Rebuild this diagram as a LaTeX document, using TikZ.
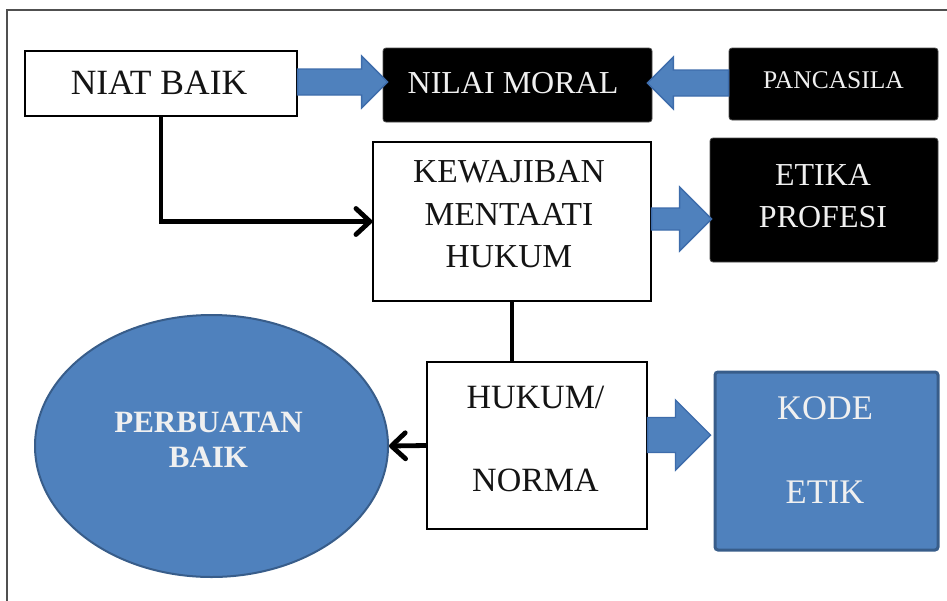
\documentclass[tikz,border=0pt]{standalone}
\usepackage{fontspec}
\setmainfont{Liberation Serif}
\usetikzlibrary{arrows.meta,shapes.geometric,calc}
\definecolor{bluefill}{HTML}{4F81BD}
\definecolor{blueedge}{HTML}{385D8A}
\definecolor{arrowedge}{HTML}{3D6CAB}
\definecolor{framegray}{HTML}{505050}

% wide block arrow: #1 tail, #2 tip, #3 body half-height, #4 head half-height, #5 signed head length
\newcommand\blockarrow[5]{%
  \draw[blockarrow] ($(#1)+(0,-#3)$) -- ($(#2)+(-#5,-#3)$) -- ($(#2)+(-#5,-#4)$)
    -- (#2) -- ($(#2)+(-#5,#4)$) -- ($(#2)+(-#5,#3)$) -- ($(#1)+(0,#3)$) -- cycle;}

\begin{document}
\begin{tikzpicture}[x=1pt,y=-1pt,
  whitebox/.style={draw=black, line width=1.3pt, fill=white, inner sep=0pt},
  blackbox/.style={draw=black!70, line width=0.8pt, fill=black, rounded corners=3pt, inner sep=0pt},
  bluebox/.style={draw=blueedge, line width=3pt, fill=bluefill, rounded corners=3pt, inner sep=0pt},
  darktext/.style={text=black!92, align=center, inner sep=0pt},
  lighttext/.style={text=white!94!black, align=center, inner sep=0pt},
  link/.style={draw=black, line width=4.8pt, line join=miter,
    -{Straight Barb[length=14pt,width=26pt,round]}},
  blockarrow/.style={fill=bluefill, draw=arrowedge, line width=1.4pt, line join=miter},
]
\useasboundingbox (0,0) rectangle (947,600);
\clip (0,0) rectangle (947,600);

% outer frame
\draw[framegray, line width=2pt] (7,620) -- (7,10) -- (960,10);

% boxes
\node[whitebox, minimum width=272pt, minimum height=65pt] (niat) at (161,83.5) {};
\node[blackbox, minimum width=269pt, minimum height=74pt] (nilai) at (517.5,85) {};
\node[blackbox, minimum width=209pt, minimum height=72pt] (pancasila) at (833.5,84) {};
\node[whitebox, minimum width=278pt, minimum height=159pt] (kew) at (512,221.5) {};
\node[blackbox, minimum width=228pt, minimum height=124pt] (etika) at (824,200) {};
\node[whitebox, minimum width=220pt, minimum height=167pt] (hukum) at (537,445.5) {};
\node[bluebox, minimum width=223pt, minimum height=178pt] (kode) at (826.5,461) {};
\node[ellipse, draw=blueedge, line width=2pt, fill=bluefill, inner sep=0pt,
      minimum width=353pt, minimum height=262pt] (perbuatan) at (211.5,446) {};

% texts
\node[darktext, font=\fontsize{35.5}{40}\selectfont] (niatT) at (159,83) {NIAT BAIK};
\node[lighttext, font=\fontsize{32}{40}\selectfont] (nilaiT) at (513,83) {NILAI MORAL};
\node[lighttext, font=\fontsize{25.5}{30}\selectfont] (pancasilaT) at (833.5,80) {PANCASILA};
\node[darktext, font=\fontsize{33.5}{42.5}\selectfont] (kewT) at (509,214.5) {KEWAJIBAN\\MENTAATI\\HUKUM};
\node[lighttext, font=\fontsize{32}{42}\selectfont] (etikaT) at (823,196) {ETIKA\\PROFESI};
\node[darktext, font=\fontsize{34}{83}\selectfont] (hukumT) at (535.5,438.5) {HUKUM/\\NORMA};
\node[lighttext, font=\fontsize{34.5}{84}\selectfont] (kodeT) at (825,450) {KODE\\ETIK};
\node[lighttext, font=\fontsize{31}{35}\selectfont\bfseries] (perbuatanT) at (208.5,439.5) {PERBUATAN\\BAIK};

% wide arrows
\coordinate (a1tail) at (niat.east |- 0,82);
\coordinate (a1tip) at ($(nilai.west |- 0,82)+(5,0)$);
\blockarrow{a1tail}{a1tip}{13}{26}{26}
\coordinate (a2tail) at (pancasila.west |- 0,83);
\coordinate (a2tip) at ($(nilai.east |- 0,83)+(-5,0)$);
\blockarrow{a2tail}{a2tip}{13}{26}{-26}
\coordinate (a3tail) at (kew.east |- 0,219);
\coordinate (a3tip) at ($(etika.west |- 0,219)+(2,0)$);
\blockarrow{a3tail}{a3tip}{11}{32}{32}
\coordinate (a4tail) at (hukum.east |- 0,435);
\coordinate (a4tip) at ($(kode.west |- 0,435)+(-3,0)$);
\blockarrow{a4tail}{a4tip}{17.5}{35}{35}

% line connectors
\draw[link] (niat.south) |- (kew.west);
\draw[draw=black, line width=4.8pt] (kew.south) -- (kew.south |- hukum.north);
\draw[link] (hukum.west) -- (perbuatan.east);
\end{tikzpicture}
\end{document}
